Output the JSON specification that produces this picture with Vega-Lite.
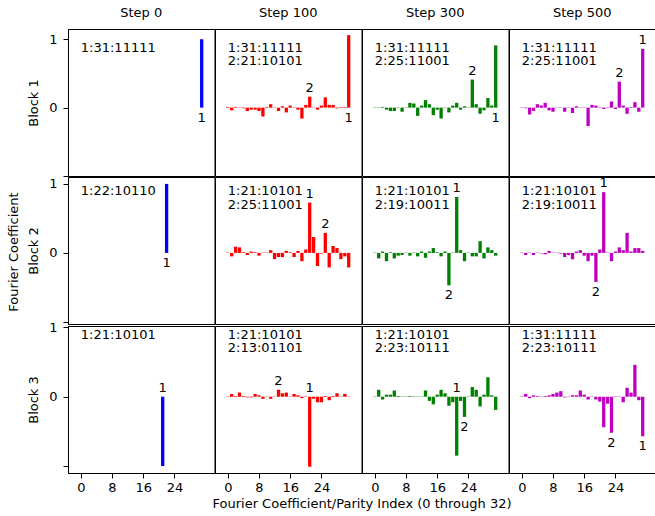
{
"$schema":"https://vega.github.io/schema/vega-lite/v6.json",
"padding":{"left":7,"right":0,"top":7,"bottom":5},
"title":{"text":"Fourier Coefficient","orient":"left","anchor":"middle","fontSize":13,"fontWeight":"normal","font":"DejaVu Sans","color":"black","offset":7,"dx":7},
"data":{"name":"all"},
"datasets":{"all":[
{"k":"b","b":1,"s":"Step 0","i":0,"v":0},{"k":"b","b":1,"s":"Step 0","i":1,"v":0},{"k":"b","b":1,"s":"Step 0","i":2,"v":0},{"k":"b","b":1,"s":"Step 0","i":3,"v":0},{"k":"b","b":1,"s":"Step 0","i":4,"v":0},{"k":"b","b":1,"s":"Step 0","i":5,"v":0},{"k":"b","b":1,"s":"Step 0","i":6,"v":0},{"k":"b","b":1,"s":"Step 0","i":7,"v":0},
{"k":"b","b":1,"s":"Step 0","i":8,"v":0},{"k":"b","b":1,"s":"Step 0","i":9,"v":0},{"k":"b","b":1,"s":"Step 0","i":10,"v":0},{"k":"b","b":1,"s":"Step 0","i":11,"v":0},{"k":"b","b":1,"s":"Step 0","i":12,"v":0},{"k":"b","b":1,"s":"Step 0","i":13,"v":0},{"k":"b","b":1,"s":"Step 0","i":14,"v":0},{"k":"b","b":1,"s":"Step 0","i":15,"v":0},
{"k":"b","b":1,"s":"Step 0","i":16,"v":0},{"k":"b","b":1,"s":"Step 0","i":17,"v":0},{"k":"b","b":1,"s":"Step 0","i":18,"v":0},{"k":"b","b":1,"s":"Step 0","i":19,"v":0},{"k":"b","b":1,"s":"Step 0","i":20,"v":0},{"k":"b","b":1,"s":"Step 0","i":21,"v":0},{"k":"b","b":1,"s":"Step 0","i":22,"v":0},{"k":"b","b":1,"s":"Step 0","i":23,"v":0},
{"k":"b","b":1,"s":"Step 0","i":24,"v":0},{"k":"b","b":1,"s":"Step 0","i":25,"v":0},{"k":"b","b":1,"s":"Step 0","i":26,"v":0},{"k":"b","b":1,"s":"Step 0","i":27,"v":0},{"k":"b","b":1,"s":"Step 0","i":28,"v":0},{"k":"b","b":1,"s":"Step 0","i":29,"v":0},{"k":"b","b":1,"s":"Step 0","i":30,"v":0},{"k":"b","b":1,"s":"Step 0","i":31,"v":1.0},
{"k":"b","b":1,"s":"Step 100","i":0,"v":0.01},{"k":"b","b":1,"s":"Step 100","i":1,"v":-0.04},{"k":"b","b":1,"s":"Step 100","i":2,"v":0.01},{"k":"b","b":1,"s":"Step 100","i":3,"v":0.005},{"k":"b","b":1,"s":"Step 100","i":4,"v":-0.01},{"k":"b","b":1,"s":"Step 100","i":5,"v":-0.05},{"k":"b","b":1,"s":"Step 100","i":6,"v":-0.03},{"k":"b","b":1,"s":"Step 100","i":7,"v":-0.03},
{"k":"b","b":1,"s":"Step 100","i":8,"v":-0.05},{"k":"b","b":1,"s":"Step 100","i":9,"v":-0.13},{"k":"b","b":1,"s":"Step 100","i":10,"v":0.01},{"k":"b","b":1,"s":"Step 100","i":11,"v":0.05},{"k":"b","b":1,"s":"Step 100","i":12,"v":0.005},{"k":"b","b":1,"s":"Step 100","i":13,"v":-0.05},{"k":"b","b":1,"s":"Step 100","i":14,"v":0.02},{"k":"b","b":1,"s":"Step 100","i":15,"v":-0.07},
{"k":"b","b":1,"s":"Step 100","i":16,"v":0.03},{"k":"b","b":1,"s":"Step 100","i":17,"v":0.005},{"k":"b","b":1,"s":"Step 100","i":18,"v":-0.03},{"k":"b","b":1,"s":"Step 100","i":19,"v":-0.16},{"k":"b","b":1,"s":"Step 100","i":20,"v":0.04},{"k":"b","b":1,"s":"Step 100","i":21,"v":0.16},{"k":"b","b":1,"s":"Step 100","i":22,"v":0.005},{"k":"b","b":1,"s":"Step 100","i":23,"v":-0.03},
{"k":"b","b":1,"s":"Step 100","i":24,"v":0.03},{"k":"b","b":1,"s":"Step 100","i":25,"v":0.15},{"k":"b","b":1,"s":"Step 100","i":26,"v":0.04},{"k":"b","b":1,"s":"Step 100","i":27,"v":0.04},{"k":"b","b":1,"s":"Step 100","i":28,"v":-0.01},{"k":"b","b":1,"s":"Step 100","i":29,"v":0.01},{"k":"b","b":1,"s":"Step 100","i":30,"v":0.01},{"k":"b","b":1,"s":"Step 100","i":31,"v":1.06},
{"k":"b","b":1,"s":"Step 300","i":0,"v":0.005},{"k":"b","b":1,"s":"Step 300","i":1,"v":0.005},{"k":"b","b":1,"s":"Step 300","i":2,"v":0.01},{"k":"b","b":1,"s":"Step 300","i":3,"v":-0.03},{"k":"b","b":1,"s":"Step 300","i":4,"v":-0.05},{"k":"b","b":1,"s":"Step 300","i":5,"v":-0.05},{"k":"b","b":1,"s":"Step 300","i":6,"v":0.005},{"k":"b","b":1,"s":"Step 300","i":7,"v":-0.06},
{"k":"b","b":1,"s":"Step 300","i":8,"v":0.005},{"k":"b","b":1,"s":"Step 300","i":9,"v":0.07},{"k":"b","b":1,"s":"Step 300","i":10,"v":0.06},{"k":"b","b":1,"s":"Step 300","i":11,"v":-0.12},{"k":"b","b":1,"s":"Step 300","i":12,"v":0.03},{"k":"b","b":1,"s":"Step 300","i":13,"v":0.11},{"k":"b","b":1,"s":"Step 300","i":14,"v":0.05},{"k":"b","b":1,"s":"Step 300","i":15,"v":-0.11},
{"k":"b","b":1,"s":"Step 300","i":16,"v":-0.03},{"k":"b","b":1,"s":"Step 300","i":17,"v":-0.16},{"k":"b","b":1,"s":"Step 300","i":18,"v":0.005},{"k":"b","b":1,"s":"Step 300","i":19,"v":-0.07},{"k":"b","b":1,"s":"Step 300","i":20,"v":0.03},{"k":"b","b":1,"s":"Step 300","i":21,"v":0.07},{"k":"b","b":1,"s":"Step 300","i":22,"v":-0.03},{"k":"b","b":1,"s":"Step 300","i":23,"v":0.02},
{"k":"b","b":1,"s":"Step 300","i":24,"v":0.005},{"k":"b","b":1,"s":"Step 300","i":25,"v":0.41},{"k":"b","b":1,"s":"Step 300","i":26,"v":0.05},{"k":"b","b":1,"s":"Step 300","i":27,"v":-0.09},{"k":"b","b":1,"s":"Step 300","i":28,"v":-0.04},{"k":"b","b":1,"s":"Step 300","i":29,"v":0.14},{"k":"b","b":1,"s":"Step 300","i":30,"v":0.03},{"k":"b","b":1,"s":"Step 300","i":31,"v":0.91},
{"k":"b","b":1,"s":"Step 500","i":0,"v":0.005},{"k":"b","b":1,"s":"Step 500","i":1,"v":-0.01},{"k":"b","b":1,"s":"Step 500","i":2,"v":-0.1},{"k":"b","b":1,"s":"Step 500","i":3,"v":-0.05},{"k":"b","b":1,"s":"Step 500","i":4,"v":0.05},{"k":"b","b":1,"s":"Step 500","i":5,"v":0.03},{"k":"b","b":1,"s":"Step 500","i":6,"v":0.07},{"k":"b","b":1,"s":"Step 500","i":7,"v":-0.04},
{"k":"b","b":1,"s":"Step 500","i":8,"v":-0.06},{"k":"b","b":1,"s":"Step 500","i":9,"v":0.005},{"k":"b","b":1,"s":"Step 500","i":10,"v":0.005},{"k":"b","b":1,"s":"Step 500","i":11,"v":-0.06},{"k":"b","b":1,"s":"Step 500","i":12,"v":0.005},{"k":"b","b":1,"s":"Step 500","i":13,"v":-0.08},{"k":"b","b":1,"s":"Step 500","i":14,"v":0.02},{"k":"b","b":1,"s":"Step 500","i":15,"v":0.005},
{"k":"b","b":1,"s":"Step 500","i":16,"v":0.005},{"k":"b","b":1,"s":"Step 500","i":17,"v":-0.27},{"k":"b","b":1,"s":"Step 500","i":18,"v":0.04},{"k":"b","b":1,"s":"Step 500","i":19,"v":0.03},{"k":"b","b":1,"s":"Step 500","i":20,"v":0.005},{"k":"b","b":1,"s":"Step 500","i":21,"v":-0.02},{"k":"b","b":1,"s":"Step 500","i":22,"v":0.005},{"k":"b","b":1,"s":"Step 500","i":23,"v":0.09},
{"k":"b","b":1,"s":"Step 500","i":24,"v":-0.02},{"k":"b","b":1,"s":"Step 500","i":25,"v":0.38},{"k":"b","b":1,"s":"Step 500","i":26,"v":0.03},{"k":"b","b":1,"s":"Step 500","i":27,"v":-0.09},{"k":"b","b":1,"s":"Step 500","i":28,"v":0.01},{"k":"b","b":1,"s":"Step 500","i":29,"v":0.08},{"k":"b","b":1,"s":"Step 500","i":30,"v":-0.06},{"k":"b","b":1,"s":"Step 500","i":31,"v":0.86},
{"k":"b","b":2,"s":"Step 0","i":0,"v":0},{"k":"b","b":2,"s":"Step 0","i":1,"v":0},{"k":"b","b":2,"s":"Step 0","i":2,"v":0},{"k":"b","b":2,"s":"Step 0","i":3,"v":0},{"k":"b","b":2,"s":"Step 0","i":4,"v":0},{"k":"b","b":2,"s":"Step 0","i":5,"v":0},{"k":"b","b":2,"s":"Step 0","i":6,"v":0},{"k":"b","b":2,"s":"Step 0","i":7,"v":0},
{"k":"b","b":2,"s":"Step 0","i":8,"v":0},{"k":"b","b":2,"s":"Step 0","i":9,"v":0},{"k":"b","b":2,"s":"Step 0","i":10,"v":0},{"k":"b","b":2,"s":"Step 0","i":11,"v":0},{"k":"b","b":2,"s":"Step 0","i":12,"v":0},{"k":"b","b":2,"s":"Step 0","i":13,"v":0},{"k":"b","b":2,"s":"Step 0","i":14,"v":0},{"k":"b","b":2,"s":"Step 0","i":15,"v":0},
{"k":"b","b":2,"s":"Step 0","i":16,"v":0},{"k":"b","b":2,"s":"Step 0","i":17,"v":0},{"k":"b","b":2,"s":"Step 0","i":18,"v":0},{"k":"b","b":2,"s":"Step 0","i":19,"v":0},{"k":"b","b":2,"s":"Step 0","i":20,"v":0},{"k":"b","b":2,"s":"Step 0","i":21,"v":0},{"k":"b","b":2,"s":"Step 0","i":22,"v":1.0},{"k":"b","b":2,"s":"Step 0","i":23,"v":0},
{"k":"b","b":2,"s":"Step 0","i":24,"v":0},{"k":"b","b":2,"s":"Step 0","i":25,"v":0},{"k":"b","b":2,"s":"Step 0","i":26,"v":0},{"k":"b","b":2,"s":"Step 0","i":27,"v":0},{"k":"b","b":2,"s":"Step 0","i":28,"v":0},{"k":"b","b":2,"s":"Step 0","i":29,"v":0},{"k":"b","b":2,"s":"Step 0","i":30,"v":0},{"k":"b","b":2,"s":"Step 0","i":31,"v":0},
{"k":"b","b":2,"s":"Step 100","i":0,"v":0.005},{"k":"b","b":2,"s":"Step 100","i":1,"v":-0.05},{"k":"b","b":2,"s":"Step 100","i":2,"v":0.09},{"k":"b","b":2,"s":"Step 100","i":3,"v":0.08},{"k":"b","b":2,"s":"Step 100","i":4,"v":0.01},{"k":"b","b":2,"s":"Step 100","i":5,"v":-0.03},{"k":"b","b":2,"s":"Step 100","i":6,"v":0.02},{"k":"b","b":2,"s":"Step 100","i":7,"v":0.01},
{"k":"b","b":2,"s":"Step 100","i":8,"v":-0.04},{"k":"b","b":2,"s":"Step 100","i":9,"v":0.005},{"k":"b","b":2,"s":"Step 100","i":10,"v":0.005},{"k":"b","b":2,"s":"Step 100","i":11,"v":0.04},{"k":"b","b":2,"s":"Step 100","i":12,"v":-0.09},{"k":"b","b":2,"s":"Step 100","i":13,"v":-0.06},{"k":"b","b":2,"s":"Step 100","i":14,"v":-0.06},{"k":"b","b":2,"s":"Step 100","i":15,"v":0.03},
{"k":"b","b":2,"s":"Step 100","i":16,"v":0.01},{"k":"b","b":2,"s":"Step 100","i":17,"v":-0.06},{"k":"b","b":2,"s":"Step 100","i":18,"v":0.03},{"k":"b","b":2,"s":"Step 100","i":19,"v":-0.12},{"k":"b","b":2,"s":"Step 100","i":20,"v":0.05},{"k":"b","b":2,"s":"Step 100","i":21,"v":0.73},{"k":"b","b":2,"s":"Step 100","i":22,"v":0.23},{"k":"b","b":2,"s":"Step 100","i":23,"v":-0.19},
{"k":"b","b":2,"s":"Step 100","i":24,"v":-0.01},{"k":"b","b":2,"s":"Step 100","i":25,"v":0.29},{"k":"b","b":2,"s":"Step 100","i":26,"v":-0.21},{"k":"b","b":2,"s":"Step 100","i":27,"v":0.1},{"k":"b","b":2,"s":"Step 100","i":28,"v":0.07},{"k":"b","b":2,"s":"Step 100","i":29,"v":-0.09},{"k":"b","b":2,"s":"Step 100","i":30,"v":-0.05},{"k":"b","b":2,"s":"Step 100","i":31,"v":-0.21},
{"k":"b","b":2,"s":"Step 300","i":0,"v":0.005},{"k":"b","b":2,"s":"Step 300","i":1,"v":-0.08},{"k":"b","b":2,"s":"Step 300","i":2,"v":0.02},{"k":"b","b":2,"s":"Step 300","i":3,"v":-0.12},{"k":"b","b":2,"s":"Step 300","i":4,"v":0.01},{"k":"b","b":2,"s":"Step 300","i":5,"v":-0.08},{"k":"b","b":2,"s":"Step 300","i":6,"v":-0.04},{"k":"b","b":2,"s":"Step 300","i":7,"v":-0.03},
{"k":"b","b":2,"s":"Step 300","i":8,"v":0.005},{"k":"b","b":2,"s":"Step 300","i":9,"v":-0.04},{"k":"b","b":2,"s":"Step 300","i":10,"v":0.005},{"k":"b","b":2,"s":"Step 300","i":11,"v":-0.05},{"k":"b","b":2,"s":"Step 300","i":12,"v":0.02},{"k":"b","b":2,"s":"Step 300","i":13,"v":-0.07},{"k":"b","b":2,"s":"Step 300","i":14,"v":0.02},{"k":"b","b":2,"s":"Step 300","i":15,"v":0.07},
{"k":"b","b":2,"s":"Step 300","i":16,"v":0.01},{"k":"b","b":2,"s":"Step 300","i":17,"v":-0.05},{"k":"b","b":2,"s":"Step 300","i":18,"v":0.02},{"k":"b","b":2,"s":"Step 300","i":19,"v":-0.47},{"k":"b","b":2,"s":"Step 300","i":20,"v":0.005},{"k":"b","b":2,"s":"Step 300","i":21,"v":0.81},{"k":"b","b":2,"s":"Step 300","i":22,"v":0.04},{"k":"b","b":2,"s":"Step 300","i":23,"v":-0.12},
{"k":"b","b":2,"s":"Step 300","i":24,"v":0.005},{"k":"b","b":2,"s":"Step 300","i":25,"v":-0.05},{"k":"b","b":2,"s":"Step 300","i":26,"v":-0.05},{"k":"b","b":2,"s":"Step 300","i":27,"v":0.17},{"k":"b","b":2,"s":"Step 300","i":28,"v":-0.08},{"k":"b","b":2,"s":"Step 300","i":29,"v":0.08},{"k":"b","b":2,"s":"Step 300","i":30,"v":0.04},{"k":"b","b":2,"s":"Step 300","i":31,"v":-0.04},
{"k":"b","b":2,"s":"Step 500","i":0,"v":0.005},{"k":"b","b":2,"s":"Step 500","i":1,"v":-0.03},{"k":"b","b":2,"s":"Step 500","i":2,"v":0.005},{"k":"b","b":2,"s":"Step 500","i":3,"v":-0.03},{"k":"b","b":2,"s":"Step 500","i":4,"v":0.005},{"k":"b","b":2,"s":"Step 500","i":5,"v":-0.01},{"k":"b","b":2,"s":"Step 500","i":6,"v":-0.02},{"k":"b","b":2,"s":"Step 500","i":7,"v":0.03},
{"k":"b","b":2,"s":"Step 500","i":8,"v":0.005},{"k":"b","b":2,"s":"Step 500","i":9,"v":0.005},{"k":"b","b":2,"s":"Step 500","i":10,"v":-0.01},{"k":"b","b":2,"s":"Step 500","i":11,"v":-0.06},{"k":"b","b":2,"s":"Step 500","i":12,"v":-0.03},{"k":"b","b":2,"s":"Step 500","i":13,"v":-0.09},{"k":"b","b":2,"s":"Step 500","i":14,"v":0.02},{"k":"b","b":2,"s":"Step 500","i":15,"v":0.04},
{"k":"b","b":2,"s":"Step 500","i":16,"v":-0.04},{"k":"b","b":2,"s":"Step 500","i":17,"v":-0.12},{"k":"b","b":2,"s":"Step 500","i":18,"v":-0.04},{"k":"b","b":2,"s":"Step 500","i":19,"v":-0.42},{"k":"b","b":2,"s":"Step 500","i":20,"v":0.05},{"k":"b","b":2,"s":"Step 500","i":21,"v":0.88},{"k":"b","b":2,"s":"Step 500","i":22,"v":0.005},{"k":"b","b":2,"s":"Step 500","i":23,"v":-0.12},
{"k":"b","b":2,"s":"Step 500","i":24,"v":0.02},{"k":"b","b":2,"s":"Step 500","i":25,"v":0.08},{"k":"b","b":2,"s":"Step 500","i":26,"v":0.04},{"k":"b","b":2,"s":"Step 500","i":27,"v":0.29},{"k":"b","b":2,"s":"Step 500","i":28,"v":0.02},{"k":"b","b":2,"s":"Step 500","i":29,"v":0.07},{"k":"b","b":2,"s":"Step 500","i":30,"v":0.07},{"k":"b","b":2,"s":"Step 500","i":31,"v":0.03},
{"k":"b","b":3,"s":"Step 0","i":0,"v":0},{"k":"b","b":3,"s":"Step 0","i":1,"v":0},{"k":"b","b":3,"s":"Step 0","i":2,"v":0},{"k":"b","b":3,"s":"Step 0","i":3,"v":0},{"k":"b","b":3,"s":"Step 0","i":4,"v":0},{"k":"b","b":3,"s":"Step 0","i":5,"v":0},{"k":"b","b":3,"s":"Step 0","i":6,"v":0},{"k":"b","b":3,"s":"Step 0","i":7,"v":0},
{"k":"b","b":3,"s":"Step 0","i":8,"v":0},{"k":"b","b":3,"s":"Step 0","i":9,"v":0},{"k":"b","b":3,"s":"Step 0","i":10,"v":0},{"k":"b","b":3,"s":"Step 0","i":11,"v":0},{"k":"b","b":3,"s":"Step 0","i":12,"v":0},{"k":"b","b":3,"s":"Step 0","i":13,"v":0},{"k":"b","b":3,"s":"Step 0","i":14,"v":0},{"k":"b","b":3,"s":"Step 0","i":15,"v":0},
{"k":"b","b":3,"s":"Step 0","i":16,"v":0},{"k":"b","b":3,"s":"Step 0","i":17,"v":0},{"k":"b","b":3,"s":"Step 0","i":18,"v":0},{"k":"b","b":3,"s":"Step 0","i":19,"v":0},{"k":"b","b":3,"s":"Step 0","i":20,"v":0},{"k":"b","b":3,"s":"Step 0","i":21,"v":-1.0},{"k":"b","b":3,"s":"Step 0","i":22,"v":0},{"k":"b","b":3,"s":"Step 0","i":23,"v":0},
{"k":"b","b":3,"s":"Step 0","i":24,"v":0},{"k":"b","b":3,"s":"Step 0","i":25,"v":0},{"k":"b","b":3,"s":"Step 0","i":26,"v":0},{"k":"b","b":3,"s":"Step 0","i":27,"v":0},{"k":"b","b":3,"s":"Step 0","i":28,"v":0},{"k":"b","b":3,"s":"Step 0","i":29,"v":0},{"k":"b","b":3,"s":"Step 0","i":30,"v":0},{"k":"b","b":3,"s":"Step 0","i":31,"v":0},
{"k":"b","b":3,"s":"Step 100","i":0,"v":0.005},{"k":"b","b":3,"s":"Step 100","i":1,"v":0.04},{"k":"b","b":3,"s":"Step 100","i":2,"v":0.01},{"k":"b","b":3,"s":"Step 100","i":3,"v":0.06},{"k":"b","b":3,"s":"Step 100","i":4,"v":0.01},{"k":"b","b":3,"s":"Step 100","i":5,"v":-0.01},{"k":"b","b":3,"s":"Step 100","i":6,"v":-0.01},{"k":"b","b":3,"s":"Step 100","i":7,"v":0.04},
{"k":"b","b":3,"s":"Step 100","i":8,"v":0.02},{"k":"b","b":3,"s":"Step 100","i":9,"v":-0.03},{"k":"b","b":3,"s":"Step 100","i":10,"v":0.005},{"k":"b","b":3,"s":"Step 100","i":11,"v":-0.03},{"k":"b","b":3,"s":"Step 100","i":12,"v":0.005},{"k":"b","b":3,"s":"Step 100","i":13,"v":0.1},{"k":"b","b":3,"s":"Step 100","i":14,"v":0.05},{"k":"b","b":3,"s":"Step 100","i":15,"v":0.06},
{"k":"b","b":3,"s":"Step 100","i":16,"v":0.005},{"k":"b","b":3,"s":"Step 100","i":17,"v":0.04},{"k":"b","b":3,"s":"Step 100","i":18,"v":0.02},{"k":"b","b":3,"s":"Step 100","i":19,"v":-0.02},{"k":"b","b":3,"s":"Step 100","i":20,"v":0.005},{"k":"b","b":3,"s":"Step 100","i":21,"v":-1.01},{"k":"b","b":3,"s":"Step 100","i":22,"v":-0.03},{"k":"b","b":3,"s":"Step 100","i":23,"v":-0.08},
{"k":"b","b":3,"s":"Step 100","i":24,"v":-0.08},{"k":"b","b":3,"s":"Step 100","i":25,"v":0.01},{"k":"b","b":3,"s":"Step 100","i":26,"v":-0.05},{"k":"b","b":3,"s":"Step 100","i":27,"v":0.01},{"k":"b","b":3,"s":"Step 100","i":28,"v":0.05},{"k":"b","b":3,"s":"Step 100","i":29,"v":0.005},{"k":"b","b":3,"s":"Step 100","i":30,"v":0.04},{"k":"b","b":3,"s":"Step 100","i":31,"v":0.005},
{"k":"b","b":3,"s":"Step 300","i":0,"v":0.005},{"k":"b","b":3,"s":"Step 300","i":1,"v":0.1},{"k":"b","b":3,"s":"Step 300","i":2,"v":-0.04},{"k":"b","b":3,"s":"Step 300","i":3,"v":0.03},{"k":"b","b":3,"s":"Step 300","i":4,"v":0.03},{"k":"b","b":3,"s":"Step 300","i":5,"v":0.09},{"k":"b","b":3,"s":"Step 300","i":6,"v":0.01},{"k":"b","b":3,"s":"Step 300","i":7,"v":0.005},
{"k":"b","b":3,"s":"Step 300","i":8,"v":0.005},{"k":"b","b":3,"s":"Step 300","i":9,"v":0.01},{"k":"b","b":3,"s":"Step 300","i":10,"v":0.005},{"k":"b","b":3,"s":"Step 300","i":11,"v":0.005},{"k":"b","b":3,"s":"Step 300","i":12,"v":0.005},{"k":"b","b":3,"s":"Step 300","i":13,"v":0.09},{"k":"b","b":3,"s":"Step 300","i":14,"v":-0.06},{"k":"b","b":3,"s":"Step 300","i":15,"v":-0.11},
{"k":"b","b":3,"s":"Step 300","i":16,"v":0.03},{"k":"b","b":3,"s":"Step 300","i":17,"v":0.1},{"k":"b","b":3,"s":"Step 300","i":18,"v":0.05},{"k":"b","b":3,"s":"Step 300","i":19,"v":-0.13},{"k":"b","b":3,"s":"Step 300","i":20,"v":-0.08},{"k":"b","b":3,"s":"Step 300","i":21,"v":-0.85},{"k":"b","b":3,"s":"Step 300","i":22,"v":-0.06},{"k":"b","b":3,"s":"Step 300","i":23,"v":-0.29},
{"k":"b","b":3,"s":"Step 300","i":24,"v":0.005},{"k":"b","b":3,"s":"Step 300","i":25,"v":0.14},{"k":"b","b":3,"s":"Step 300","i":26,"v":0.1},{"k":"b","b":3,"s":"Step 300","i":27,"v":-0.14},{"k":"b","b":3,"s":"Step 300","i":28,"v":0.03},{"k":"b","b":3,"s":"Step 300","i":29,"v":0.28},{"k":"b","b":3,"s":"Step 300","i":30,"v":0.02},{"k":"b","b":3,"s":"Step 300","i":31,"v":-0.19},
{"k":"b","b":3,"s":"Step 500","i":0,"v":0.005},{"k":"b","b":3,"s":"Step 500","i":1,"v":0.04},{"k":"b","b":3,"s":"Step 500","i":2,"v":-0.02},{"k":"b","b":3,"s":"Step 500","i":3,"v":0.02},{"k":"b","b":3,"s":"Step 500","i":4,"v":0.01},{"k":"b","b":3,"s":"Step 500","i":5,"v":0.005},{"k":"b","b":3,"s":"Step 500","i":6,"v":0.01},{"k":"b","b":3,"s":"Step 500","i":7,"v":0.02},
{"k":"b","b":3,"s":"Step 500","i":8,"v":0.04},{"k":"b","b":3,"s":"Step 500","i":9,"v":0.06},{"k":"b","b":3,"s":"Step 500","i":10,"v":0.08},{"k":"b","b":3,"s":"Step 500","i":11,"v":-0.01},{"k":"b","b":3,"s":"Step 500","i":12,"v":0.005},{"k":"b","b":3,"s":"Step 500","i":13,"v":0.02},{"k":"b","b":3,"s":"Step 500","i":14,"v":0.02},{"k":"b","b":3,"s":"Step 500","i":15,"v":0.09},
{"k":"b","b":3,"s":"Step 500","i":16,"v":0.03},{"k":"b","b":3,"s":"Step 500","i":17,"v":-0.04},{"k":"b","b":3,"s":"Step 500","i":18,"v":0.005},{"k":"b","b":3,"s":"Step 500","i":19,"v":-0.04},{"k":"b","b":3,"s":"Step 500","i":20,"v":-0.07},{"k":"b","b":3,"s":"Step 500","i":21,"v":-0.44},{"k":"b","b":3,"s":"Step 500","i":22,"v":-0.1},{"k":"b","b":3,"s":"Step 500","i":23,"v":-0.52},
{"k":"b","b":3,"s":"Step 500","i":24,"v":0.005},{"k":"b","b":3,"s":"Step 500","i":25,"v":0.005},{"k":"b","b":3,"s":"Step 500","i":26,"v":-0.08},{"k":"b","b":3,"s":"Step 500","i":27,"v":0.13},{"k":"b","b":3,"s":"Step 500","i":28,"v":0.06},{"k":"b","b":3,"s":"Step 500","i":29,"v":0.46},{"k":"b","b":3,"s":"Step 500","i":30,"v":-0.05},{"k":"b","b":3,"s":"Step 500","i":31,"v":-0.57},
{"k":"n","b":1,"s":"Step 0","t":"1:31:11111"},
{"k":"n","b":1,"s":"Step 100","t":"1:31:11111\n2:21:10101"},
{"k":"n","b":1,"s":"Step 300","t":"1:31:11111\n2:25:11001"},
{"k":"n","b":1,"s":"Step 500","t":"1:31:11111\n2:25:11001"},
{"k":"n","b":2,"s":"Step 0","t":"1:22:10110"},
{"k":"n","b":2,"s":"Step 100","t":"1:21:10101\n2:25:11001"},
{"k":"n","b":2,"s":"Step 300","t":"1:21:10101\n2:19:10011"},
{"k":"n","b":2,"s":"Step 500","t":"1:21:10101\n2:19:10011"},
{"k":"n","b":3,"s":"Step 0","t":"1:21:10101"},
{"k":"n","b":3,"s":"Step 100","t":"1:21:10101\n2:13:01101"},
{"k":"n","b":3,"s":"Step 300","t":"1:21:10101\n2:23:10111"},
{"k":"n","b":3,"s":"Step 500","t":"1:31:11111\n2:23:10111"},
{"k":"l","b":1,"s":"Step 0","i":31,"a":0,"p":"below","t":"1"},
{"k":"l","b":2,"s":"Step 0","i":22,"a":0,"p":"below","t":"1"},
{"k":"l","b":3,"s":"Step 0","i":21,"a":0,"p":"above","t":"1"},
{"k":"l","b":1,"s":"Step 100","i":21,"a":0.16,"p":"above","t":"2"},
{"k":"l","b":1,"s":"Step 100","i":31,"a":0,"p":"below","t":"1"},
{"k":"l","b":1,"s":"Step 300","i":25,"a":0.41,"p":"above","t":"2"},
{"k":"l","b":1,"s":"Step 300","i":31,"a":0,"p":"below","t":"1"},
{"k":"l","b":1,"s":"Step 500","i":25,"a":0.38,"p":"above","t":"2"},
{"k":"l","b":1,"s":"Step 500","i":31,"a":0.86,"p":"above","t":"1"},
{"k":"l","b":2,"s":"Step 100","i":21,"a":0.73,"p":"above","t":"1"},
{"k":"l","b":2,"s":"Step 100","i":25,"a":0.29,"p":"above","t":"2"},
{"k":"l","b":2,"s":"Step 300","i":21,"a":0.81,"p":"above","t":"1"},
{"k":"l","b":2,"s":"Step 300","i":19,"a":-0.47,"p":"below","t":"2"},
{"k":"l","b":2,"s":"Step 500","i":21,"a":0.88,"p":"above","t":"1"},
{"k":"l","b":2,"s":"Step 500","i":19,"a":-0.42,"p":"below","t":"2"},
{"k":"l","b":3,"s":"Step 100","i":13,"a":0.1,"p":"above","t":"2"},
{"k":"l","b":3,"s":"Step 100","i":21,"a":0,"p":"above","t":"1"},
{"k":"l","b":3,"s":"Step 300","i":21,"a":0,"p":"above","t":"1"},
{"k":"l","b":3,"s":"Step 300","i":23,"a":-0.29,"p":"below","t":"2"},
{"k":"l","b":3,"s":"Step 500","i":23,"a":-0.52,"p":"below","t":"2"},
{"k":"l","b":3,"s":"Step 500","i":31,"a":-0.57,"p":"below","t":"1"}
]},
"spacing":-4,
"vconcat":[
{"spacing":-2,
 "vconcat":[
{"transform":[{"filter":"datum.b == 1"}],
 "facet":{"column":{"field":"s","type":"nominal","title":null,"header":{"labelFontSize":13,"labelFontWeight":"normal","labelPadding":9,"labelColor":"black","labelFont":"DejaVu Sans"}}},
 "spacing":0,
 "bounds":"flush",
 "spec":{"width":146.5,"height":147,"layer":[
  {"transform":[{"filter":"datum.k == 'b'"}],"mark":{"type":"bar","width":3.3},
   "encoding":{"x":{"field":"i","type":"quantitative","scale":{"domain":[-2,33],"nice":false,"zero":false},"axis":null},
   "y":{"field":"v","type":"quantitative","scale":{"domain":[-1.0,1.15],"nice":false},"axis":{"values":[-1,0,1],"labelExpr":"datum.value < 0 ? '' : toString(datum.value)","title":"Block 1"}},
   "color":{"field":"s","type":"nominal","scale":{"domain":["Step 0","Step 100","Step 300","Step 500"],"range":["#0000ff","#ff0000","#008000","#bf00bf"]},"legend":null}}},
  {"transform":[{"filter":"datum.k == 'n'"}],"mark":{"type":"text","align":"left","baseline":"top","lineBreak":"\n","lineHeight":13.5,"fontSize":13},
   "encoding":{"x":{"datum":0,"type":"quantitative","scale":{"domain":[-2,33],"nice":false,"zero":false}},"y":{"datum":0.96,"type":"quantitative","scale":{"domain":[-1.0,1.15],"nice":false}},"text":{"field":"t"}}},
  {"transform":[{"filter":"datum.k == 'l' && datum.p == 'above'"}],"mark":{"type":"text","baseline":"bottom","dy":-2,"fontSize":13},
   "encoding":{"x":{"field":"i","type":"quantitative","scale":{"domain":[-2,33],"nice":false,"zero":false}},"y":{"field":"a","type":"quantitative","scale":{"domain":[-1.0,1.15],"nice":false}},"text":{"field":"t"}}},
  {"transform":[{"filter":"datum.k == 'l' && datum.p == 'below'"}],"mark":{"type":"text","baseline":"top","dy":4,"fontSize":13},
   "encoding":{"x":{"field":"i","type":"quantitative","scale":{"domain":[-2,33],"nice":false,"zero":false}},"y":{"field":"a","type":"quantitative","scale":{"domain":[-1.0,1.15],"nice":false}},"text":{"field":"t"}}}
 ]}},
{"transform":[{"filter":"datum.b == 2"}],
 "facet":{"column":{"field":"s","type":"nominal","title":null,"header":{"labels":false}}},
 "spacing":0,
 "bounds":"flush",
 "spec":{"width":146.5,"height":147,"layer":[
  {"transform":[{"filter":"datum.k == 'b'"}],"mark":{"type":"bar","width":3.3},
   "encoding":{"x":{"field":"i","type":"quantitative","scale":{"domain":[-2,33],"nice":false,"zero":false},"axis":null},
   "y":{"field":"v","type":"quantitative","scale":{"domain":[-1.03,1.1],"nice":false},"axis":{"values":[-1,0,1],"labelExpr":"datum.value < 0 ? '' : toString(datum.value)","title":"Block 2"}},
   "color":{"field":"s","type":"nominal","scale":{"domain":["Step 0","Step 100","Step 300","Step 500"],"range":["#0000ff","#ff0000","#008000","#bf00bf"]},"legend":null}}},
  {"transform":[{"filter":"datum.k == 'n'"}],"mark":{"type":"text","align":"left","baseline":"top","lineBreak":"\n","lineHeight":13.5,"fontSize":13},
   "encoding":{"x":{"datum":0,"type":"quantitative","scale":{"domain":[-2,33],"nice":false,"zero":false}},"y":{"datum":0.98,"type":"quantitative","scale":{"domain":[-1.03,1.1],"nice":false}},"text":{"field":"t"}}},
  {"transform":[{"filter":"datum.k == 'l' && datum.p == 'above'"}],"mark":{"type":"text","baseline":"bottom","dy":-2,"fontSize":13},
   "encoding":{"x":{"field":"i","type":"quantitative","scale":{"domain":[-2,33],"nice":false,"zero":false}},"y":{"field":"a","type":"quantitative","scale":{"domain":[-1.03,1.1],"nice":false}},"text":{"field":"t"}}},
  {"transform":[{"filter":"datum.k == 'l' && datum.p == 'below'"}],"mark":{"type":"text","baseline":"top","dy":4,"fontSize":13},
   "encoding":{"x":{"field":"i","type":"quantitative","scale":{"domain":[-2,33],"nice":false,"zero":false}},"y":{"field":"a","type":"quantitative","scale":{"domain":[-1.03,1.1],"nice":false}},"text":{"field":"t"}}}
 ]}}
 ]},
{"transform":[{"filter":"datum.b == 3"}],
 "facet":{"column":{"field":"s","type":"nominal","title":"Fourier Coefficient/Parity Index (0 through 32)","header":{"labels":false,"titleOrient":"bottom","titleFontSize":13,"titleFontWeight":"normal","titleColor":"black","titleFont":"DejaVu Sans","titlePadding":-6}}},
 "spacing":0,
 "bounds":"flush",
 "spec":{"width":146.5,"height":147,"layer":[
  {"transform":[{"filter":"datum.k == 'b'"}],"mark":{"type":"bar","width":3.3},
   "encoding":{"x":{"field":"i","type":"quantitative","scale":{"domain":[-2,33],"nice":false,"zero":false},"axis":{"values":[0,8,16,24],"title":null,"labelPadding":3}},
   "y":{"field":"v","type":"quantitative","scale":{"domain":[-1.1,1.02],"nice":false},"axis":{"values":[-1,0,1],"labelExpr":"datum.value < 0 ? '' : toString(datum.value)","title":"Block 3"}},
   "color":{"field":"s","type":"nominal","scale":{"domain":["Step 0","Step 100","Step 300","Step 500"],"range":["#0000ff","#ff0000","#008000","#bf00bf"]},"legend":null}}},
  {"transform":[{"filter":"datum.k == 'n'"}],"mark":{"type":"text","align":"left","baseline":"top","lineBreak":"\n","lineHeight":13.5,"fontSize":13},
   "encoding":{"x":{"datum":0,"type":"quantitative","scale":{"domain":[-2,33],"nice":false,"zero":false}},"y":{"datum":0.98,"type":"quantitative","scale":{"domain":[-1.1,1.02],"nice":false}},"text":{"field":"t"}}},
  {"transform":[{"filter":"datum.k == 'l' && datum.p == 'above'"}],"mark":{"type":"text","baseline":"bottom","dy":-2,"fontSize":13},
   "encoding":{"x":{"field":"i","type":"quantitative","scale":{"domain":[-2,33],"nice":false,"zero":false}},"y":{"field":"a","type":"quantitative","scale":{"domain":[-1.1,1.02],"nice":false}},"text":{"field":"t"}}},
  {"transform":[{"filter":"datum.k == 'l' && datum.p == 'below'"}],"mark":{"type":"text","baseline":"top","dy":4,"fontSize":13},
   "encoding":{"x":{"field":"i","type":"quantitative","scale":{"domain":[-2,33],"nice":false,"zero":false}},"y":{"field":"a","type":"quantitative","scale":{"domain":[-1.1,1.02],"nice":false}},"text":{"field":"t"}}}
 ]}}
],
"config":{
 "font":"DejaVu Sans",
 "view":{"stroke":"black","strokeWidth":1},
 "text":{"font":"DejaVu Sans","color":"black"},
 "axis":{"labelFont":"DejaVu Sans","titleFont":"DejaVu Sans","labelFontSize":13,"titleFontSize":13,"titleFontWeight":"normal","labelColor":"black","titleColor":"black","domainColor":"black","tickColor":"black","tickSize":5,"labelPadding":6,"grid":false,"titlePadding":8},
 "header":{"labelFont":"DejaVu Sans","labelFontSize":13,"labelFontWeight":"normal","labelColor":"black","titleFontWeight":"normal"},
 "title":{"font":"DejaVu Sans","fontSize":13,"fontWeight":"normal","color":"black"}
}
}
